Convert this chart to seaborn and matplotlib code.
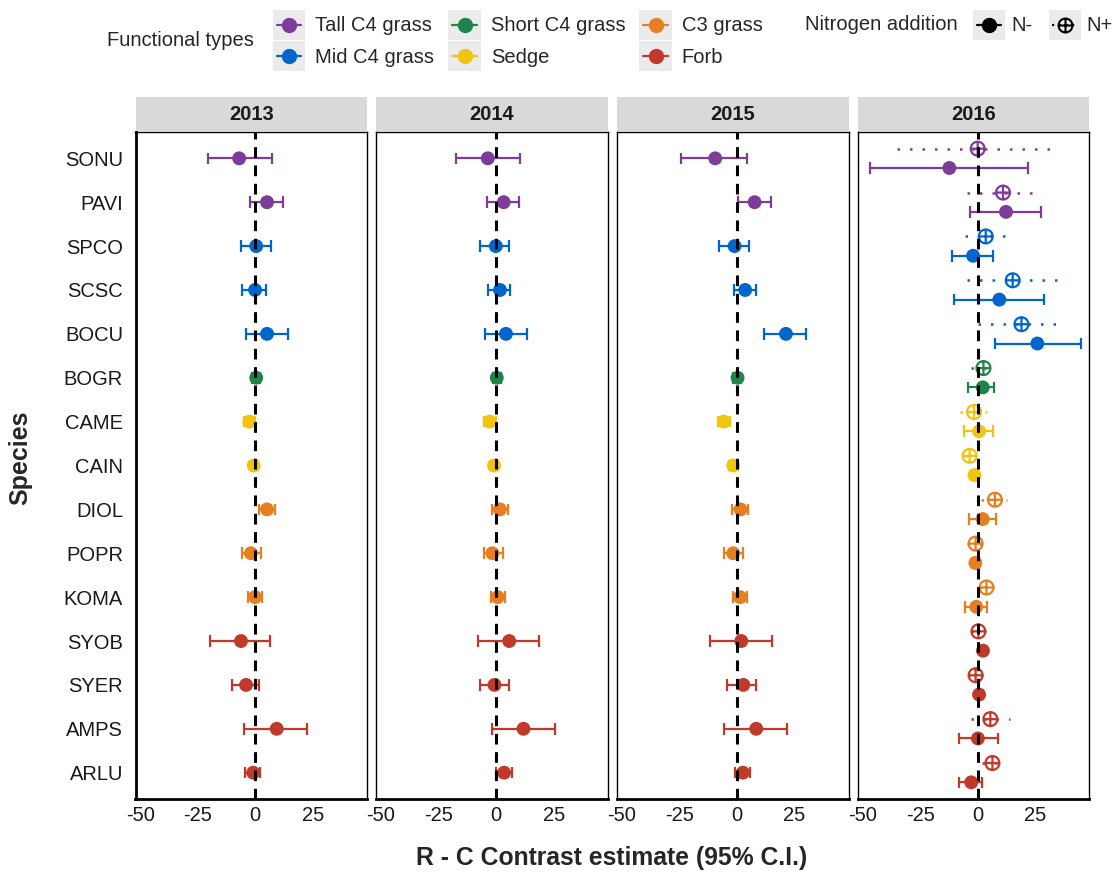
import numpy as np
import pandas as pd
import matplotlib.pyplot as plt
import seaborn as sns
from matplotlib.path import Path
from matplotlib.patches import Rectangle
from matplotlib.lines import Line2D
from matplotlib.legend_handler import HandlerBase

sns.set_style("white")
plt.rcParams['font.family'] = ['Liberation Sans', 'DejaVu Sans']
plt.rcParams['axes.unicode_minus'] = False

# --- data ---
species = ['SONU', 'PAVI', 'SPCO', 'SCSC', 'BOCU', 'BOGR', 'CAME', 'CAIN',
           'DIOL', 'POPR', 'KOMA', 'SYOB', 'SYER', 'AMPS', 'ARLU']
ftype = ['Tall C4 grass', 'Tall C4 grass', 'Mid C4 grass', 'Mid C4 grass', 'Mid C4 grass',
         'Short C4 grass', 'Sedge', 'Sedge', 'C3 grass', 'C3 grass', 'C3 grass',
         'Forb', 'Forb', 'Forb', 'Forb']
type_order = ['Tall C4 grass', 'Mid C4 grass', 'Short C4 grass', 'Sedge', 'C3 grass', 'Forb']
type_colors = ['#7D3C98', '#0066CC', '#1E8449', '#F1C40F', '#E67E22', '#C0392B']
years = ['2013', '2014', '2015', '2016']

est_2013 = [-7.0, 5.1, 0.4, -0.1, 5.1, 0.4, -2.6, -0.7, 5.1, -1.9, -0.1, -6.2, -4.0, 9.3, -0.9]
lo_2013 = [-20.7, -2.2, -6.2, -5.6, -3.9, -1.4, -5.0, -2.4, 1.8, -5.8, -3.3, -19.7, -10.3, -4.8, -4.3]
hi_2013 = [7.3, 11.9, 6.8, 4.5, 14.1, 2.0, 0.0, 1.0, 8.5, 2.5, 2.9, 6.5, 1.5, 22.5, 2.2]

est_2014 = [-3.6, 3.3, -0.1, 1.7, 4.3, 0.3, -2.8, -0.9, 1.7, -1.6, 0.7, 5.7, -0.7, 11.9, 3.5]
lo_2014 = [-17.5, -4.1, -7.0, -3.5, -4.6, -1.5, -5.2, -2.5, -1.9, -5.4, -2.2, -8.0, -7.0, -1.9, 0.0]
hi_2014 = [10.6, 9.9, 5.8, 5.9, 13.5, 2.0, -0.2, 0.8, 5.1, 2.8, 3.9, 18.6, 5.4, 25.4, 6.8]

est_2015 = [-9.4, 7.7, -1.0, 3.6, 21.3, 0.3, -5.7, -1.6, 1.6, -1.6, 1.4, 1.9, 2.8, 8.4, 2.6]
lo_2015 = [-24.1, 0.4, -7.7, -1.3, 11.7, -1.5, -8.3, -3.5, -2.0, -5.4, -1.7, -11.6, -4.2, -5.4, -0.6]
hi_2015 = [4.3, 14.6, 5.2, 8.4, 29.9, 2.0, -3.0, 0.3, 4.9, 2.8, 4.2, 15.4, 8.4, 21.9, 5.9]

# 2016, no nitrogen (N-)
est_2016 = [-12.3, 12.3, -2.0, 9.4, 25.9, 2.2, 0.6, -1.4, 2.2, -1.0, -0.6, 2.3, 0.6, 0.1, -2.8]
lo_2016 = [-46.8, -3.5, -11.0, -10.4, 7.4, -4.1, -5.9, -3.0, -3.8, -2.5, -5.5, 0.8, -0.9, -8.1, -8.1]
hi_2016 = [21.9, 27.7, 6.5, 29.0, 44.8, 7.2, 6.5, 0.2, 7.8, 0.5, 4.1, 3.8, 2.1, 9.0, 2.0]

# 2016, nitrogen added (N+)
est_2016n = [0.0, 11.0, 3.5, 15.2, 19.0, 2.5, -1.6, -3.5, 7.5, -0.9, 3.8, 0.3, -0.9, 5.5, 6.4]
lo_2016n = [-34.9, -4.8, -5.5, -4.8, 0.3, -3.0, -7.7, -5.9, 1.3, -4.5, 0.6, -3.0, -4.2, -3.0, 1.7]
hi_2016n = [34.6, 25.9, 12.9, 34.5, 37.8, 8.1, 4.2, -0.9, 12.9, 2.5, 7.8, 3.8, 2.5, 13.9, 11.6]

sets = [('2013', 'N-', est_2013, lo_2013, hi_2013),
        ('2014', 'N-', est_2014, lo_2014, hi_2014),
        ('2015', 'N-', est_2015, lo_2015, hi_2015),
        ('2016', 'N-', est_2016, lo_2016, hi_2016),
        ('2016', 'N+', est_2016n, lo_2016n, hi_2016n)]

rows = []
for year, n, est, lo, hi in sets:
    for i, sp in enumerate(species):
        rows.append(dict(year=year, nitro=n, species=sp, ftype=ftype[i],
                         est=est[i], lo=lo[i], hi=hi[i]))
df = pd.DataFrame(rows)
df['ypos'] = df['species'].map({s: i for i, s in enumerate(species)}).astype(float)
df.loc[(df.year == '2016') & (df.nitro == 'N-'), 'ypos'] += 0.22
df.loc[(df.year == '2016') & (df.nitro == 'N+'), 'ypos'] -= 0.22

palette = dict(zip(type_order, type_colors))

# circle with a plus inside (ggplot shape 10)
oplus = Path.make_compound_path(
    Path.unit_circle(),
    Path([[-1, 0], [1, 0], [0, -1], [0, 1]],
         [Path.MOVETO, Path.LINETO, Path.MOVETO, Path.LINETO]))
dotted = (0, (1, 4))

fig = plt.figure(figsize=(11.2, 8.77), dpi=100)
W, H = 1120, 877
left0, pw, step = 135.5, 231.5, 240.8
top_px, bot_px = 132, 799
ph = bot_px - top_px

for k, year in enumerate(years):
    ax = fig.add_axes([(left0 + k * step) / W, 1 - bot_px / H, pw / W, ph / H])
    sub = df[df.year == year]
    for n in ['N-', 'N+']:
        s = sub[sub.nitro == n]
        if s.empty:
            continue
        cols = s.ftype.map(palette).tolist()
        if n == 'N-':
            ax.hlines(s.ypos, s.lo, s.hi, colors=cols, lw=1.6, zorder=2)
            ax.scatter(s.lo, s.ypos, marker='|', c=cols, s=70, lw=1.6, zorder=2)
            ax.scatter(s.hi, s.ypos, marker='|', c=cols, s=70, lw=1.6, zorder=2)
            sns.scatterplot(data=s, x='est', y='ypos', hue='ftype', palette=palette,
                            s=100, edgecolor='none', legend=False, ax=ax, zorder=3)
        else:
            ax.hlines(s.ypos, s.lo, s.hi, colors=cols, lw=1.8, linestyles=[dotted], zorder=2)
            sns.scatterplot(data=s, x='est', y='ypos', hue='ftype', palette=palette,
                            marker=oplus, s=100, legend=False, ax=ax, zorder=3)
            coll = ax.collections[-1]
            fc = coll.get_facecolors()
            coll.set_edgecolors(fc)
            coll.set_facecolors('none')
            coll.set_linewidth(1.6)
    ax.axvline(0, color='black', lw=2.2, ls=(0, (3.5, 2.5)), zorder=5)

    ax.set_xlim(-52, 48.5)
    ax.set_ylim(14.6, -0.6)
    ax.set_xticks([-50, -25, 0, 25])
    ax.set_yticks(range(len(species)))
    ax.set_yticklabels(species)
    ax.set_xlabel('')
    ax.set_ylabel('')
    ax.tick_params(axis='x', direction='in', length=8.5, width=1.1, color='#333333',
                   labelsize=14.5, labelcolor='#1A1A1A', pad=5)
    ax.tick_params(axis='y', direction='in', length=9.5, width=1.1, color='#333333',
                   labelsize=14.5, labelcolor='#1A1A1A', pad=9)
    for sp in ax.spines.values():
        sp.set_color('black')
        sp.set_linewidth(1.0)
    ax.spines['bottom'].set_linewidth(2.0)
    if k == 0:
        ax.spines['left'].set_linewidth(2.0)
    else:
        ax.tick_params(axis='y', left=False, labelleft=False)

    # facet strip
    sh = 34 / ph
    gap = 1 / ph
    ax.add_patch(Rectangle((0, 1 + gap), 1, sh, transform=ax.transAxes, clip_on=False,
                           facecolor='#D9D9D9', edgecolor='none'))
    ax.text(0.5, 1 + gap + sh / 2, year, transform=ax.transAxes, ha='center', va='center',
            fontsize=14.5, fontweight='bold', color='#1A1A1A')

fig.text(612 / W, 1 - 858 / H, 'R - C Contrast estimate (95% C.I.)', ha='center', va='center',
         fontsize=17.8, fontweight='bold')
fig.text(20 / W, 1 - 458 / H, 'Species', ha='center', va='center', rotation=90,
         fontsize=18, fontweight='bold')


class KeyHandler(HandlerBase):
    def create_artists(self, legend, orig, xd, yd, width, height, fontsize, trans):
        x0, y0 = -xd, -yd
        yc = y0 + height / 2
        bg = Rectangle((x0, y0), width, height, facecolor='#EBEBEB', edgecolor='none',
                       transform=trans)
        ls = (0, (1, 2)) if orig.get_linestyle() == ':' else '-'
        ln = Line2D([x0 + 0.12 * width, x0 + 0.88 * width], [yc, yc], color=orig.get_color(),
                    ls=ls, lw=1.6, transform=trans)
        mk = Line2D([x0 + width / 2], [yc], marker=orig.get_marker(), ms=orig.get_markersize(),
                    mfc=orig.get_markerfacecolor(), mec=orig.get_markeredgecolor(), mew=1.5,
                    ls='none', transform=trans)
        return [bg, ln, mk]


ft_handles = [Line2D([], [], color=c, marker='o', ms=9.5, mfc=c, mec=c, ls='-')
              for c in type_colors]
n_handles = [Line2D([], [], color='black', marker='o', ms=9.5, mfc='black', mec='black', ls='-'),
             Line2D([], [], color='black', marker=oplus, ms=10, mfc='none', mec='black', ls=':')]

leg_kw = dict(frameon=False, fontsize=14.5, handler_map={Line2D: KeyHandler()},
              handlelength=1.6, handleheight=1.9, labelspacing=0.08, borderpad=0,
              borderaxespad=0, loc='center left')
fig.text(107 / W, 1 - 40.5 / H, 'Functional types', ha='left', va='center', fontsize=14.5)
fig.legend(ft_handles, type_order, ncol=3, bbox_to_anchor=(273 / W, 1 - 40.5 / H),
           handletextpad=0.5, columnspacing=0.7, **leg_kw)
fig.text(805 / W, 1 - 25 / H, 'Nitrogen addition', ha='left', va='center', fontsize=14.5)
fig.legend(n_handles, ['N-', 'N+'], ncol=2, bbox_to_anchor=(973 / W, 1 - 25 / H),
           handletextpad=0.3, columnspacing=0.8, **leg_kw)

fig.savefig('out.png', dpi=100)
